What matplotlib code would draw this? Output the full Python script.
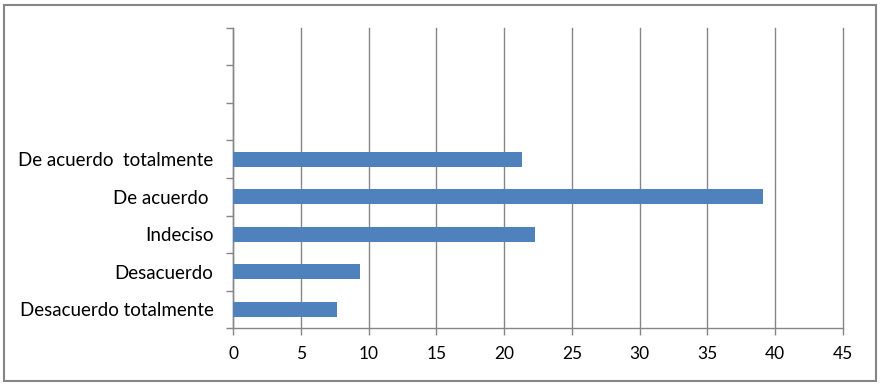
import matplotlib.pyplot as plt
from matplotlib.patches import Rectangle
import numpy as np

# Data
categories = ["Desacuerdo totalmente", "Desacuerdo", "Indeciso",
              "De acuerdo ", "De acuerdo  totalmente", "", "", ""]
values = [7.7, 9.4, 22.3, 39.1, 21.3, 0, 0, 0]
x_ticks = [0, 5, 10, 15, 20, 25, 30, 35, 40, 45]

plt.rcParams['font.family'] = ['Lato', 'DejaVu Sans']

fig = plt.figure(figsize=(8.8, 3.85), dpi=100)
ax = fig.add_axes([233 / 880, 1 - 328 / 385, 610 / 880, 300 / 385])

grey = "#868686"
y = np.arange(len(categories))
ax.barh(y[:5], values[:5], height=0.39, color="#4F81BD", zorder=3)

ax.set_xlim(0, 45)
ax.set_ylim(-0.5, len(categories) - 0.5)
ax.set_xticks(x_ticks)
ax.set_xticklabels([str(t) for t in x_ticks], fontsize=12.5)
ax.set_yticks(y)
ax.set_yticklabels(categories, fontsize=13.5)
ax.set_yticks(np.arange(-0.5, len(categories)), minor=True)
ax.tick_params(axis="y", which="major", length=0, pad=14)
ax.tick_params(axis="y", which="minor", length=5, color=grey, width=1)
ax.tick_params(axis="x", length=5, color=grey, width=1, pad=8)

ax.grid(axis="x", color=grey, linewidth=1, zorder=0)
for gl in ax.get_xgridlines():
    gl.set_clip_on(False)
for s in ["top", "right"]:
    ax.spines[s].set_visible(False)
for s in ["left", "bottom"]:
    ax.spines[s].set_color(grey)
    ax.spines[s].set_linewidth(1)

# outer chart border
fig.patches.append(Rectangle((4 / 880, 4 / 385), 872 / 880, 376 / 385,
                             transform=fig.transFigure, fill=False,
                             edgecolor=grey, linewidth=1.5))

fig.savefig("out.png", dpi=100)
